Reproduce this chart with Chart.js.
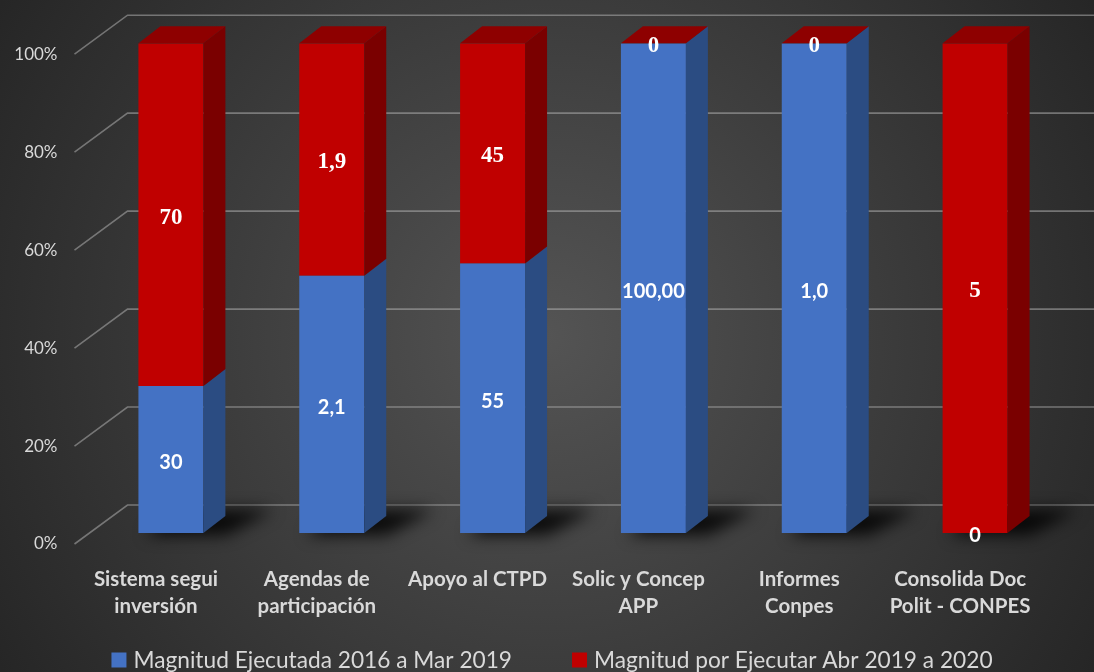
<!DOCTYPE html>
<html><head><meta charset="utf-8">
<script src="https://cdn.jsdelivr.net/npm/chart.js@4.4.1/dist/chart.umd.min.js"></script>
<style>html,body{margin:0;padding:0;background:#333;overflow:hidden}</style>
</head><body><canvas id="c" width="1094" height="672"></canvas>
<script>
const categories = [['Sistema segui','inversión'], ['Agendas de','participación'], 'Apoyo al CTPD', ['Solic y Concep','APP'], ['Informes','Conpes'], ['Consolida Doc','Polit - CONPES']];
const seriesNames = ['Magnitud Ejecutada 2016 a Mar 2019', 'Magnitud por Ejecutar Abr 2019 a 2020'];
const executed = [30, 2.1, 55, 100, 1.0, 0];
const pending = [70, 1.9, 45, 0, 0, 5];
const executedLabels = ['30', '2,1', '55', '100,00', '1,0', '0'];
const pendingLabels = ['70', '1,9', '45', '0', '0', '5'];
const yTicks = [0, 20, 40, 60, 80, 100];

const totals = executed.map((v, i) => v + pending[i]);
const executedPct = executed.map((v, i) => v / totals[i] * 100);
const pendingPct = pending.map((v, i) => v / totals[i] * 100);

const COLORS = {
  blue: '#4472C4', blueSide: '#2B4C82',
  red: '#C00000', redSide: '#7A0000', redTop: '#8E0000'
};
const DX = 22, DY = 17;

const bgPlugin = {
  id: 'bg',
  beforeDraw(chart) {
    const ctx = chart.ctx, w = chart.width, h = chart.height;
    const g = ctx.createRadialGradient(w * 0.5, h * 0.5, 0, w * 0.5, h * 0.5, 640);
    g.addColorStop(0, '#545454');
    g.addColorStop(1, '#262626');
    ctx.save();
    ctx.fillStyle = g;
    ctx.fillRect(0, 0, w, h);
    ctx.restore();
  }
};

const wallPlugin = {
  id: 'wall',
  beforeDatasetsDraw(chart) {
    const ctx = chart.ctx, y = chart.scales.y, area = chart.chartArea;
    ctx.save();
    ctx.strokeStyle = 'rgba(175,175,175,0.55)';
    ctx.lineWidth = 1.6;
    yTicks.forEach(v => {
      const p = y.getPixelForValue(v);
      ctx.beginPath();
      ctx.moveTo(area.left - 16, p + 11);
      ctx.lineTo(area.left + 37, p - 28);
      ctx.lineTo(chart.width, p - 28);
      ctx.stroke();
    });
    const meta0 = chart.getDatasetMeta(0);
    meta0.data.forEach(bar => {
      const half = bar.width / 2, left = bar.x - half, right = bar.x + half;
      const bottom = bar.base;
      ctx.save();
      ctx.filter = 'blur(8px)';
      ctx.fillStyle = 'rgba(0,0,0,0.85)';
      ctx.beginPath();
      ctx.moveTo(left + 8, bottom + 2);
      ctx.lineTo(right + 22, bottom + 2);
      ctx.lineTo(right + DX + 48, bottom - DY - 6);
      ctx.lineTo(left + DX + 10, bottom - DY - 6);
      ctx.closePath();
      ctx.fill();
      ctx.restore();
    });
    ctx.restore();
  }
};

const bar3dPlugin = {
  id: 'bar3d',
  afterDatasetsDraw(chart) {
    const ctx = chart.ctx;
    const sides = [COLORS.blueSide, COLORS.redSide];
    ctx.save();
    chart.data.datasets.forEach((ds, di) => {
      chart.getDatasetMeta(di).data.forEach(bar => {
        const right = bar.x + bar.width / 2;
        const top = Math.min(bar.y, bar.base), bottom = Math.max(bar.y, bar.base);
        if (bottom - top < 0.5) return;
        ctx.fillStyle = sides[di];
        ctx.beginPath();
        ctx.moveTo(right, top);
        ctx.lineTo(right + DX, top - DY);
        ctx.lineTo(right + DX, bottom - DY);
        ctx.lineTo(right, bottom);
        ctx.closePath();
        ctx.fill();
      });
    });
    const topMeta = chart.getDatasetMeta(chart.data.datasets.length - 1);
    topMeta.data.forEach(bar => {
      const left = bar.x - bar.width / 2, right = bar.x + bar.width / 2;
      const top = Math.min(bar.y, bar.base);
      ctx.fillStyle = COLORS.redTop;
      ctx.beginPath();
      ctx.moveTo(left, top);
      ctx.lineTo(left + DX, top - DY);
      ctx.lineTo(right + DX, top - DY);
      ctx.lineTo(right, top);
      ctx.closePath();
      ctx.fill();
    });
    ctx.restore();
  },
  afterDraw(chart) {
    const ctx = chart.ctx;
    const labelSets = [executedLabels, pendingLabels];
    const fonts = ['bold 20px Lato', 'bold 23px "Liberation Serif"'];
    ctx.save();
    ctx.fillStyle = '#ffffff';
    ctx.textAlign = 'center';
    ctx.textBaseline = 'middle';
    chart.data.datasets.forEach((ds, di) => {
      ctx.font = fonts[di];
      chart.getDatasetMeta(di).data.forEach((bar, i) => {
        const cy = (bar.y + bar.base) / 2 + 3;
        ctx.fillText(labelSets[di][i], bar.x, cy);
      });
    });
    ctx.font = '22.7px Lato';
    ctx.textAlign = 'left';
    const box = 15, gapText = 7, gapItem = 60;
    const items = chart.data.datasets.map(ds => ({ text: ds.label, color: ds.backgroundColor, w: box + gapText + ctx.measureText(ds.label).width }));
    const total = items.reduce((s, it) => s + it.w, 0) + gapItem * (items.length - 1);
    let x = (chart.width - total) / 2 + 5;
    const yc = 660;
    items.forEach(it => {
      ctx.fillStyle = it.color;
      ctx.fillRect(x, yc - box / 2, box, box);
      ctx.fillStyle = '#d9d9d9';
      ctx.fillText(it.text, x + box + gapText, yc + 1);
      x += it.w + gapItem;
    });
    ctx.restore();
  }
};

new Chart(document.getElementById('c'), {
  type: 'bar',
  data: {
    labels: categories,
    datasets: [
      { label: seriesNames[0], data: executedPct, backgroundColor: COLORS.blue, borderWidth: 0 },
      { label: seriesNames[1], data: pendingPct, backgroundColor: COLORS.red, borderWidth: 0 }
    ]
  },
  options: {
    responsive: false,
    devicePixelRatio: 1,
    animation: false,
    layout: { padding: { top: 43, right: 38.5, left: 0, bottom: 0 } },
    plugins: { legend: { display: false }, tooltip: { enabled: false } },
    datasets: { bar: { categoryPercentage: 1, barPercentage: 0.404 } },
    scales: {
      x: {
        stacked: true,
        grid: { display: false, drawTicks: false },
        border: { display: false },
        ticks: { color: '#d9d9d9', font: { family: 'Lato', weight: 'bold', size: 20.5, lineHeight: 1.3 }, padding: 33, labelOffset: -15, maxRotation: 0, autoSkip: false },
        afterFit(s) { s.height = 139; }
      },
      y: {
        stacked: true, min: 0, max: 100,
        grid: { display: false, drawTicks: false },
        border: { display: false },
        ticks: { stepSize: 20, callback: v => v + '%', color: '#d9d9d9', font: { family: 'Lato', size: 17 }, padding: 33, labelOffset: 11 },
        afterFit(s) { s.width = 90.5; }
      }
    }
  },
  plugins: [bgPlugin, wallPlugin, bar3dPlugin]
});
</script>
</body></html>
